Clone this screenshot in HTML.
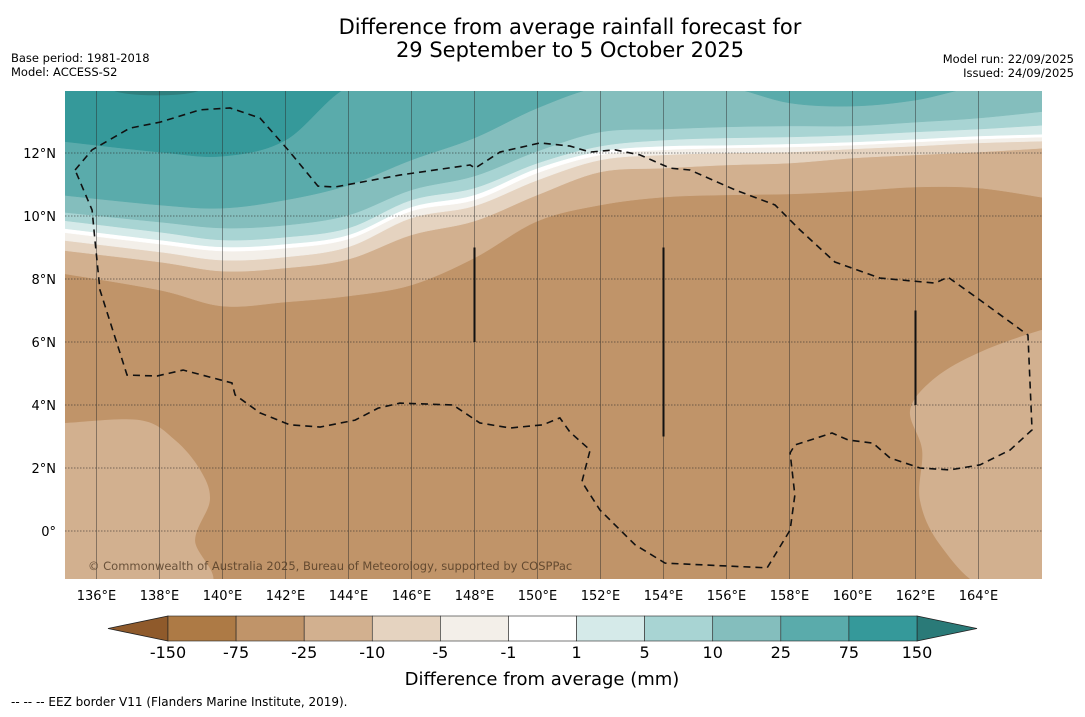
<!DOCTYPE html>
<html><head><meta charset="utf-8"><style>
html,body{margin:0;padding:0;background:#fff;}
body{width:1085px;height:713px;overflow:hidden;position:relative;font-family:"DejaVu Sans","Liberation Sans",sans-serif;}
svg text{font-family:"DejaVu Sans","Liberation Sans",sans-serif;}
</style></head><body>
<svg id="chart" width="1085" height="713" viewBox="0 0 1085 713" xmlns="http://www.w3.org/2000/svg">
<rect width="1085" height="713" fill="#fff"/>
<text x="570" y="34" font-size="21" text-anchor="middle" fill="#000">Difference from average rainfall forecast for</text>
<text x="570" y="57" font-size="21" text-anchor="middle" fill="#000">29 September to 5 October 2025</text>
<text x="11" y="62" font-size="11.5">Base period: 1981-2018</text>
<text x="11" y="76" font-size="11.5">Model: ACCESS-S2</text>
<text x="1074" y="63" font-size="11.5" text-anchor="end">Model run: 22/09/2025</text>
<text x="1074" y="77" font-size="11.5" text-anchor="end">Issued: 24/09/2025</text>
<defs><clipPath id="mapclip"><rect x="65" y="91" width="977" height="488"/></clipPath></defs>
<g id="map" clip-path="url(#mapclip)"></g>
<g id="axes"></g>
<g id="cbar"></g>
<text x="542" y="685" font-size="18" text-anchor="middle">Difference from average (mm)</text>
<text x="11" y="706" font-size="12">--  --  -- EEZ border V11 (Flanders Marine Institute, 2019).</text>
</svg>
<script>
var NS="http://www.w3.org/2000/svg";
// ---- data ----
var lonSamples=[135,138,140,142,144,146,148,150,152,154,156,158,160,162,164,166];
var levelLabels=["-150","-75","-25","-10","-5","-1","1","5","10","25","75","150"];
var bandColors=["#ad7a45","#c09469","#d2b08f","#e5d3c0","#f3efe9","#ffffff","#d5eae9","#a8d4d3","#84bebd","#5aabab","#35999a"];
var lowColor="#8f5a2b", highColor="#2a7a78";
var latM25=[8.19,7.65,7.14,7.27,7.46,7.81,8.67,9.84,10.35,10.60,10.67,10.70,10.79,10.92,10.89,10.57];
var latM10=[8.92,8.54,8.25,8.35,8.63,9.40,9.84,10.67,11.40,11.52,11.62,11.68,11.84,11.94,12.03,12.16];
var latM5=[9.24,8.86,8.60,8.70,9.02,9.94,10.32,11.14,11.78,11.94,12.0,12.03,12.13,12.22,12.32,12.38];
var latM1=[9.49,9.11,8.89,8.98,9.27,10.16,10.51,11.37,11.94,12.10,12.16,12.19,12.25,12.35,12.44,12.51];
var latP1=[9.62,9.24,9.02,9.11,9.40,10.29,10.67,11.52,12.06,12.22,12.25,12.29,12.35,12.44,12.54,12.60];
var latP5=[9.87,9.49,9.24,9.33,9.62,10.51,10.89,11.68,12.22,12.41,12.48,12.51,12.57,12.67,12.76,12.89];
var latP10=[10.13,9.81,9.62,9.71,10.03,10.83,11.27,12.06,12.67,12.76,12.83,12.86,12.86,12.98,13.11,13.33];
var latP25=[10.67,10.35,10.25,10.51,10.98,11.78,12.48,13.43,14.1,14.1,14.1,13.59,13.49,13.68,14.1,14.1];
var latP75=[12.38,12.03,11.90,12.41,14.1,14.1,14.1,14.1,14.1,14.1,14.1,14.1,14.1,14.1,14.1,14.1];
var leftBlobLon=[134.5,135,137.38,138.49,139.29,139.6,139.13,139.44,134.5];
var leftBlobLat=[3.43,3.43,3.52,2.89,1.94,0.98,-0.29,-1.8,-1.8];
var rightBlobLon=[166.5,166,164.05,162.62,161.83,162.21,162.14,162.78,164.21,166.5];
var rightBlobLat=[6.38,6.38,5.68,4.86,3.84,2.57,0.98,-0.44,-1.8,-1.8];
var eezLon=[135.32,135.86,137.06,138.02,139.29,140.24,141.19,142.14,143.03,143.57,145.63,147.86,148.02,148.81,150.08,151.03,151.67,152.46,153.25,154.21,154.84,156.27,157.54,158.33,159.44,160.87,162.62,163.03,164.05,165.57,165.70,165.0,164.05,163.10,162.14,161.19,160.65,159.86,159.35,158.17,158.02,158.17,158.02,157.29,154.05,153.10,151.98,151.41,151.67,151.03,150.71,150.17,149.13,148.17,147.32,145.63,144.94,144.21,143.10,142.14,141.19,140.40,140.30,138.75,137.92,136.97,136.11,135.95,135.86,135.32];
var eezLat=[11.46,12.10,12.79,12.98,13.37,13.43,13.11,12.03,10.95,10.92,11.30,11.62,11.52,12.03,12.32,12.22,12.03,12.10,11.94,11.52,11.46,10.83,10.35,9.56,8.54,8.03,7.87,8.06,7.33,6.22,3.21,2.57,2.10,1.94,2.0,2.32,2.79,2.89,3.11,2.73,2.48,1.14,0.03,-1.17,-1.02,-0.44,0.67,1.56,2.57,3.14,3.59,3.37,3.27,3.43,4.0,4.06,3.90,3.52,3.30,3.37,3.75,4.32,4.70,5.11,4.92,4.95,7.65,9.24,10.19,11.46];
var barLon=[148,154,162];
var barLatLo=[6.0,3.0,4.0];
var barLatHi=[9.0,9.0,7.0];
var lonTicks=[136,138,140,142,144,146,148,150,152,154,156,158,160,162,164];
var latTicks=[0,2,4,6,8,10,12];
// ---- axis functions ----
function X(lon){return 65+(lon-135)*31.5;}
function Y(lat){return 531-lat*31.5;}
function el(t,a,p){var e=document.createElementNS(NS,t);for(var k in a)e.setAttribute(k,a[k]);(p||document.getElementById('map')).appendChild(e);return e;}
function smooth(pts){var d="M"+pts[0][0]+","+pts[0][1];for(var i=0;i<pts.length-1;i++){var p0=pts[i-1]||pts[i],p1=pts[i],p2=pts[i+1],p3=pts[i+2]||p2;var c1=[p1[0]+(p2[0]-p0[0])/6,p1[1]+(p2[1]-p0[1])/6],c2=[p2[0]-(p3[0]-p1[0])/6,p2[1]-(p3[1]-p1[1])/6];d+=" C"+c1[0]+","+c1[1]+" "+c2[0]+","+c2[1]+" "+p2[0]+","+p2[1];}return d;}
var map=document.getElementById('map');
var bg=el('rect',{x:65,y:91,width:977,height:488,fill:bandColors[1]});


function blob(lons,lats,col,name){var pts=lons.map(function(l,i){return [X(l),Y(lats[i])];});var e=el('path',{d:smooth(pts)+" Z",fill:col});

}
blob(leftBlobLon,leftBlobLat,bandColors[2],'band-minus25-south-west');
blob(rightBlobLon,rightBlobLat,bandColors[2],'band-minus25-south-east');
var bounds=[latM25,latM10,latM5,latM1,latP1,latP5,latP10,latP25,latP75];
var names=['band-minus25-to-minus10','band-minus10-to-minus5','band-minus5-to-minus1','band-minus1-to-1','band-1-to-5','band-5-to-10','band-10-to-25','band-25-to-75','band-75-to-150'];
bounds.forEach(function(b,k){var pts=lonSamples.map(function(l,i){return [X(l)+(i==0?-5:(i==lonSamples.length-1?5:0)),Y(b[i])];});
var d=smooth(pts)+" L"+(X(166)+5)+",80 L"+(X(135)-5)+",80 Z";
var e=el('path',{d:d,fill:bandColors[k+2],stroke:bandColors[k+2],'stroke-width':0.5});

});
var dk=el('ellipse',{cx:X(137.9),cy:Y(14.05),rx:45,ry:7,fill:"#2f7f7e"});


lonTicks.forEach(function(l){var g=el('line',{x1:X(l),x2:X(l),y1:91,y2:579,stroke:"rgba(40,40,40,0.45)","stroke-width":1});

});
latTicks.forEach(function(t){var g=el('line',{x1:65,x2:1042,y1:Y(t),y2:Y(t),stroke:"rgba(40,40,40,0.55)","stroke-width":1,"stroke-dasharray":"1.5,1.5"});

});
barLon.forEach(function(l,i){var b=el('line',{x1:X(l),x2:X(l),y1:Y(barLatHi[i]),y2:Y(barLatLo[i]),stroke:"#111","stroke-width":2});

});
var ep=eezLon.map(function(l,i){return X(l)+","+Y(eezLat[i]);}).join(" ");
var eez=el('polyline',{points:ep,fill:"none",stroke:"#111","stroke-width":1.6,"stroke-dasharray":"7,5"});


var cp=el('text',{x:88,y:570,"font-size":11.5,fill:"rgba(70,50,30,0.75)"});
cp.textContent="© Commonwealth of Australia 2025, Bureau of Meteorology, supported by COSPPac";


var ax=document.getElementById('axes');
lonTicks.forEach(function(l){var t=el('text',{x:X(l),y:600,"font-size":13,"text-anchor":"middle"},ax);t.textContent=l+"°E";

});
latTicks.forEach(function(v){var t=el('text',{x:56,y:Y(v)+5,"font-size":13,"text-anchor":"end"},ax);t.textContent=v==0?"0°":v+"°N";

});
var cb=document.getElementById('cbar');var x0=168,x1=917,w=(x1-x0)/bandColors.length,yt=616,yb=641;
var lt=el('polygon',{points:"108,628.5 "+x0+","+yt+" "+x0+","+yb,fill:lowColor,stroke:"#222","stroke-width":0.8},cb);


var rt=el('polygon',{points:"977,628.5 "+x1+","+yt+" "+x1+","+yb,fill:highColor,stroke:"#222","stroke-width":0.8},cb);


bandColors.forEach(function(c,i){var r=el('rect',{x:x0+i*w,y:yt,width:w,height:yb-yt,fill:c,stroke:"#222","stroke-width":0.6},cb);

});
levelLabels.forEach(function(s,i){var t=el('text',{x:x0+i*w,y:658,"font-size":16,"text-anchor":"middle"},cb);t.textContent=s;

});
</script>
</body></html>
